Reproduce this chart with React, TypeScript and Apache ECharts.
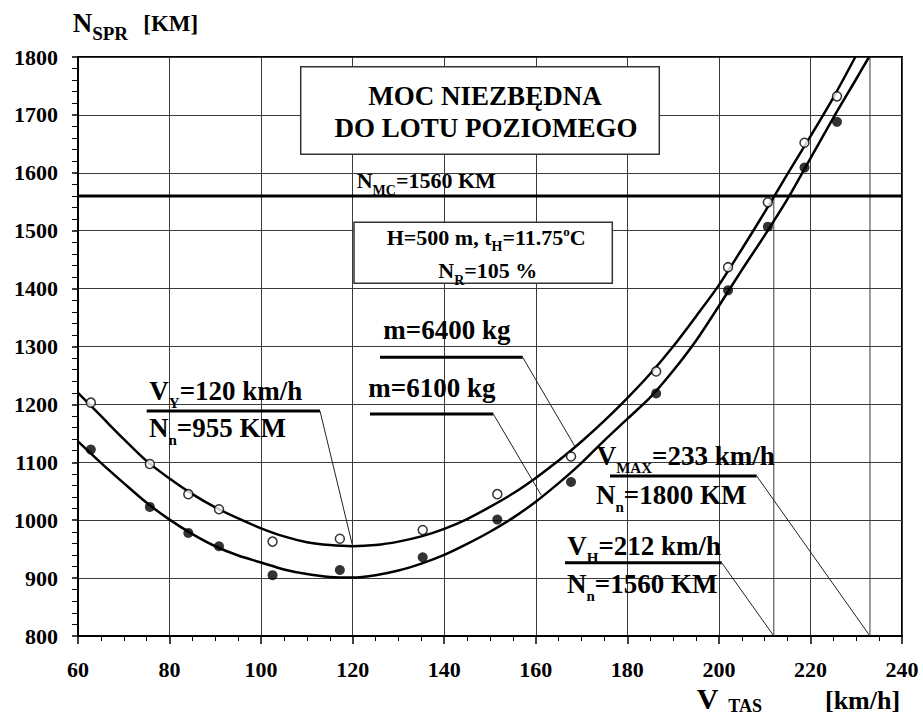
import React, { useEffect, useRef } from "react";
import * as echarts from "echarts";

// Axis ranges (V_TAS in km/h, N_SPR in KM)
const X_MIN = 60;
const X_MAX = 240;
const X_STEP = 20;
const Y_MIN = 800;
const Y_MAX = 1800;
const Y_STEP = 100;

// Fitted power-required curves
const curveM6400: [number, number][] = [
  [60, 1220], [65, 1180], [70, 1140], [75, 1102], [80, 1072], [85, 1045],
  [90, 1022], [95, 1003], [100, 986], [105, 972], [110, 962], [115, 957],
  [120, 955], [125, 957], [130, 963], [135, 972], [140, 985], [145, 1002],
  [150, 1023], [155, 1046], [160, 1073], [165, 1103], [170, 1136], [175, 1172],
  [180, 1211], [185, 1253], [190, 1300], [195, 1352], [200, 1406], [205, 1468],
  [210, 1532], [215, 1598], [220, 1663], [225, 1730], [229.8, 1800],
];

const curveM6100: [number, number][] = [
  [60, 1136], [65, 1099], [70, 1064], [75, 1030], [80, 1001], [85, 976],
  [90, 955], [95, 939], [100, 927], [105, 915], [110, 907], [115, 902],
  [120, 901], [125, 905], [130, 913], [135, 925], [140, 940], [145, 959],
  [150, 980], [155, 1004], [160, 1032], [165, 1064], [170, 1099], [175, 1138],
  [180, 1175], [185, 1212], [190, 1258], [195, 1310], [200, 1370], [205, 1432],
  [210, 1492], [215, 1555], [220, 1625], [225, 1695], [230, 1762], [232.8, 1800],
];

// Measured points
const pointsM6400: [number, number][] = [
  [62.8, 1203], [75.7, 1097], [84.1, 1045], [90.8, 1019], [102.5, 963],
  [117.2, 968], [135.3, 983], [151.6, 1045], [167.7, 1110], [186.3, 1257],
  [202, 1437], [210.7, 1549], [218.7, 1652], [225.8, 1732],
];

const pointsM6100: [number, number][] = [
  [62.8, 1122], [75.7, 1023], [84.1, 978], [90.8, 955], [102.5, 905],
  [117.2, 914], [135.3, 936], [151.6, 1001], [167.7, 1066], [186.3, 1219],
  [202, 1397], [210.7, 1507], [218.7, 1609], [225.8, 1688],
];

// Characteristic values
const N_MC = 1560;
const V_Y = 120;
const N_Y = 955;
const V_H = 212;
const N_H = 1560;
const V_MAX = 233;
const N_MAX = 1800;

// Where the mass labels' leader lines touch their curves
const ANCHOR_6400: [number, number] = [168.5, 1128];
const ANCHOR_6100: [number, number] = [161.2, 1043];

const SERIF = "Liberation Serif";

type Piece = { t: string; s: number; dy?: number; dx?: number; at?: number };

let measureCtx: CanvasRenderingContext2D | null = null;
function textWidth(t: string, s: number): number {
  if (!measureCtx) measureCtx = document.createElement("canvas").getContext("2d");
  measureCtx!.font = `bold ${s}px "${SERIF}"`;
  return measureCtx!.measureText(t).width;
}

// Lays out a run of text pieces (normal / sub / superscript) from x along a baseline
function run(x: number, base: number, pieces: Piece[]): any[] {
  const out: any[] = [];
  let cx = x;
  for (const p of pieces) {
    if (p.at !== undefined) cx = p.at;
    cx += p.dx ?? 0;
    out.push({
      type: "text",
      x: cx,
      y: base + (p.dy ?? 0) - 0.34 * p.s,
      z: 20,
      silent: true,
      style: {
        text: p.t,
        fontFamily: SERIF,
        fontSize: p.s,
        fontWeight: "bold",
        fill: "#000",
        align: "left",
        verticalAlign: "middle",
      },
    });
    cx += textWidth(p.t, p.s);
  }
  return out;
}

function centered(x: number, base: number, t: string, s: number): any {
  return {
    type: "text",
    x,
    y: base - 0.34 * s,
    z: 20,
    silent: true,
    style: {
      text: t,
      fontFamily: SERIF,
      fontSize: s,
      fontWeight: "bold",
      fill: "#000",
      align: "center",
      verticalAlign: "middle",
    },
  };
}

function seg(x1: number, y1: number, x2: number, y2: number, w: number, color = "#000"): any {
  return {
    type: "line",
    z: 19,
    silent: true,
    shape: { x1, y1, x2, y2 },
    style: { stroke: color, lineWidth: w },
  };
}

function box(x: number, y: number, w: number, h: number): any {
  return {
    type: "rect",
    z: 15,
    silent: true,
    shape: { x, y, width: w, height: h },
    style: { fill: "#fff", stroke: "#333", lineWidth: 1.5 },
  };
}

export default function App() {
  const ref = useRef<HTMLDivElement>(null);

  useEffect(() => {
    const el = ref.current;
    if (!el) return;
    const chart = echarts.init(el, undefined, { renderer: "svg" });

    const axisText = {
      color: "#000",
      fontFamily: SERIF,
      fontWeight: "bold" as const,
      fontSize: 22,
      formatter: (v: number) => String(v),
    };
    const gridLine = { show: true, lineStyle: { color: "#3a3a3a", width: 1 } };

    chart.setOption({
      animation: false,
      textStyle: { fontFamily: SERIF },
      grid: {
        left: 78,
        right: 21,
        top: 57,
        bottom: 80,
        show: true,
        borderColor: "#000",
        borderWidth: 2,
      },
      xAxis: {
        type: "value",
        min: X_MIN,
        max: X_MAX,
        interval: X_STEP,
        axisLine: { show: true, onZero: false, lineStyle: { color: "#000", width: 2 } },
        axisTick: { show: true, length: 8, lineStyle: { color: "#000", width: 1.5 } },
        minorTick: { show: true, splitNumber: 4, length: 5, lineStyle: { color: "#000", width: 1 } },
        splitLine: gridLine,
        axisLabel: { ...axisText, margin: 22 },
      },
      yAxis: {
        type: "value",
        min: Y_MIN,
        max: Y_MAX,
        interval: Y_STEP,
        axisLine: { show: true, onZero: false, lineStyle: { color: "#000", width: 2 } },
        axisTick: { show: true, length: 6, lineStyle: { color: "#000", width: 1.5 } },
        minorTick: { show: true, splitNumber: 5, length: 6, lineStyle: { color: "#000", width: 1 } },
        splitLine: gridLine,
        axisLabel: { ...axisText, margin: 20 },
      },
      series: [
        {
          name: "m=6400 kg",
          type: "line",
          data: curveM6400,
          showSymbol: false,
          smooth: 0.3,
          lineStyle: { color: "#000", width: 2.5 },
          z: 3,
        },
        {
          name: "m=6100 kg",
          type: "line",
          data: curveM6100,
          showSymbol: false,
          smooth: 0.3,
          lineStyle: { color: "#000", width: 2.5 },
          z: 3,
        },
        {
          name: "N_MC",
          type: "line",
          data: [[X_MIN, N_MC], [X_MAX, N_MC]],
          showSymbol: false,
          lineStyle: { color: "#000", width: 3 },
          z: 2,
        },
        {
          name: "V_H",
          type: "line",
          data: [[V_H, Y_MIN], [V_H, N_H]],
          showSymbol: false,
          lineStyle: { color: "#3a3a3a", width: 1 },
          z: 1,
        },
        {
          name: "V_MAX",
          type: "line",
          data: [[V_MAX, Y_MIN], [V_MAX, N_MAX]],
          showSymbol: false,
          lineStyle: { color: "#3a3a3a", width: 1 },
          z: 1,
        },
        {
          name: "pomiar 6400 kg",
          type: "scatter",
          data: pointsM6400,
          symbol: "circle",
          symbolSize: 9,
          itemStyle: { color: "#fff", borderColor: "#000", borderWidth: 1.5 },
          z: 5,
        },
        {
          name: "pomiar 6100 kg",
          type: "scatter",
          data: pointsM6100,
          symbol: "circle",
          symbolSize: 10,
          itemStyle: { color: "#000" },
          z: 5,
        },
      ],
    });

    const px = (p: [number, number]) =>
      chart.convertToPixel({ gridIndex: 0 }, p) as unknown as [number, number];

    const pY = px([V_Y, N_Y]);
    const pH = px([V_H, Y_MIN]);
    const pMax = px([V_MAX, Y_MIN]);
    const p64 = px(ANCHOR_6400);
    const p61 = px(ANCHOR_6100);

    const elements: any[] = [
      // axis titles
      ...run(72.7, 31.7, [
        { t: "N", s: 27 },
        { t: "SPR", s: 19, dy: 8 },
        { t: "[KM]", s: 23, at: 143.3 },
      ]),
      ...run(696.7, 709, [
        { t: "V", s: 30 },
        { t: "TAS", s: 18, dy: 3, at: 728.3 },
        { t: "[km/h]", s: 26, at: 825 },
      ]),

      // title box
      box(300.7, 66.7, 358.6, 87.6),
      centered(485, 105, "MOC NIEZBĘDNA", 27),
      centered(486, 136.7, "DO LOTU POZIOMEGO", 27),

      // available power
      ...run(356.7, 188, [
        { t: "N", s: 22 },
        { t: "MC", s: 14, dy: 7 },
        { t: "=1560 KM", s: 22 },
      ]),

      // flight conditions box
      box(354, 222.3, 258.3, 61),
      ...run(386.7, 245, [
        { t: "H=500 m, t", s: 22 },
        { t: "H", s: 14, dy: 6 },
        { t: "=11.75", s: 22 },
        { t: "o", s: 13, dy: -9 },
        { t: "C", s: 22 },
      ]),
      ...run(438.3, 278.3, [
        { t: "N", s: 22 },
        { t: "R", s: 14, dy: 7 },
        { t: "=105 %", s: 22 },
      ]),

      // mass labels
      ...run(383.3, 339.3, [{ t: "m=6400 kg", s: 27 }]),
      seg(380, 357.3, 522.7, 357.3, 3),
      seg(522.7, 357.3, p64[0], p64[1], 1, "#222"),
      ...run(368.3, 396.7, [{ t: "m=6100 kg", s: 27 }]),
      seg(370, 414, 493.3, 414, 3),
      seg(493.3, 414, p61[0], p61[1], 1, "#222"),

      // best climb speed
      ...run(149.3, 400, [
        { t: "V", s: 27 },
        { t: "Y", s: 15, dy: 8 },
        { t: "=120 km/h", s: 27 },
      ]),
      seg(146.7, 411, 320, 411, 3),
      ...run(149, 437.3, [
        { t: "N", s: 27 },
        { t: "n", s: 15, dy: 8 },
        { t: "=955 KM", s: 27 },
      ]),
      seg(320, 411, pY[0], pY[1], 1, "#222"),

      // maximum speed
      ...run(596.7, 465, [
        { t: "V", s: 27 },
        { t: "MAX", s: 15, dy: 8 },
        { t: "=233 km/h", s: 27 },
      ]),
      seg(610, 476, 756.7, 476, 3),
      ...run(596, 504, [
        { t: "N", s: 27 },
        { t: "n", s: 15, dy: 8 },
        { t: "=1800 KM", s: 27 },
      ]),
      seg(756.7, 476, pMax[0], pMax[1], 1, "#222"),

      // maximum level speed at continuous power
      ...run(567.3, 555, [
        { t: "V", s: 27 },
        { t: "H", s: 15, dy: 8 },
        { t: "=212 km/h", s: 27 },
      ]),
      seg(565, 562.7, 721.7, 562.7, 3),
      ...run(567, 593.3, [
        { t: "N", s: 27 },
        { t: "n", s: 15, dy: 8 },
        { t: "=1560 KM", s: 27 },
      ]),
      seg(721.7, 562.7, pH[0], pH[1], 1, "#222"),
    ];

    chart.setOption({ graphic: { elements } });

    return () => {
      chart.dispose();
    };
  }, []);

  return (
    <div
      ref={ref}
      style={{ position: "fixed", left: 0, top: 0, width: 923, height: 716, background: "#fff" }}
    />
  );
}
